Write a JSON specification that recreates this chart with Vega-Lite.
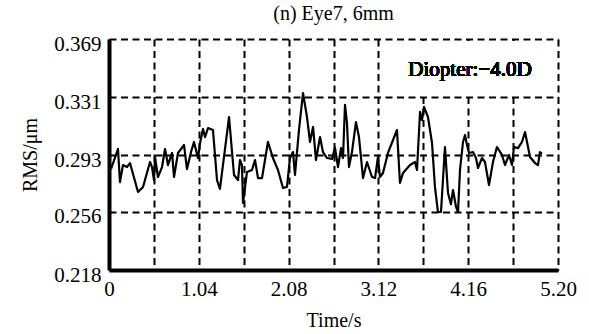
{
  "$schema": "https://vega.github.io/schema/vega-lite/v6.json",
  "width": 449,
  "height": 231,
  "autosize": {"type": "none"},
  "padding": {"left": 109, "top": 39, "right": 31, "bottom": 64},
  "background": "white",
  "config": {
    "view": {"stroke": null},
    "font": "Liberation Serif"
  },
  "title": {
    "text": "(n) Eye7, 6mm",
    "font": "Liberation Serif",
    "fontSize": 20,
    "fontWeight": "normal",
    "color": "black",
    "offset": 9
  },
  "data": {
    "values": [
      {"t": 0.023, "v": 0.2840},
      {"t": 0.104, "v": 0.2971},
      {"t": 0.127, "v": 0.2755},
      {"t": 0.162, "v": 0.2866},
      {"t": 0.208, "v": 0.2853},
      {"t": 0.243, "v": 0.2879},
      {"t": 0.336, "v": 0.2690},
      {"t": 0.394, "v": 0.2723},
      {"t": 0.475, "v": 0.2886},
      {"t": 0.498, "v": 0.2853},
      {"t": 0.521, "v": 0.2768},
      {"t": 0.533, "v": 0.2919},
      {"t": 0.567, "v": 0.2788},
      {"t": 0.614, "v": 0.2853},
      {"t": 0.649, "v": 0.2971},
      {"t": 0.683, "v": 0.2866},
      {"t": 0.730, "v": 0.2945},
      {"t": 0.753, "v": 0.2788},
      {"t": 0.799, "v": 0.2945},
      {"t": 0.869, "v": 0.2997},
      {"t": 0.903, "v": 0.2840},
      {"t": 0.950, "v": 0.2951},
      {"t": 0.984, "v": 0.3017},
      {"t": 1.031, "v": 0.2912},
      {"t": 1.054, "v": 0.3010},
      {"t": 1.089, "v": 0.3102},
      {"t": 1.112, "v": 0.3049},
      {"t": 1.147, "v": 0.3108},
      {"t": 1.204, "v": 0.3095},
      {"t": 1.251, "v": 0.2768},
      {"t": 1.285, "v": 0.2710},
      {"t": 1.390, "v": 0.3180},
      {"t": 1.448, "v": 0.2801},
      {"t": 1.494, "v": 0.2768},
      {"t": 1.517, "v": 0.2899},
      {"t": 1.540, "v": 0.2866},
      {"t": 1.552, "v": 0.2618},
      {"t": 1.598, "v": 0.2821},
      {"t": 1.656, "v": 0.2834},
      {"t": 1.691, "v": 0.2899},
      {"t": 1.726, "v": 0.2781},
      {"t": 1.772, "v": 0.2781},
      {"t": 1.841, "v": 0.3017},
      {"t": 1.899, "v": 0.2912},
      {"t": 1.957, "v": 0.2834},
      {"t": 2.015, "v": 0.2716},
      {"t": 2.061, "v": 0.2723},
      {"t": 2.096, "v": 0.2912},
      {"t": 2.131, "v": 0.2951},
      {"t": 2.154, "v": 0.2801},
      {"t": 2.200, "v": 0.3095},
      {"t": 2.247, "v": 0.3337},
      {"t": 2.293, "v": 0.3180},
      {"t": 2.328, "v": 0.3017},
      {"t": 2.363, "v": 0.3115},
      {"t": 2.397, "v": 0.2899},
      {"t": 2.444, "v": 0.3049},
      {"t": 2.478, "v": 0.2951},
      {"t": 2.525, "v": 0.2912},
      {"t": 2.583, "v": 0.2906},
      {"t": 2.617, "v": 0.2980},
      {"t": 2.652, "v": 0.2853},
      {"t": 2.687, "v": 0.2977},
      {"t": 2.710, "v": 0.2912},
      {"t": 2.733, "v": 0.3259},
      {"t": 2.756, "v": 0.3141},
      {"t": 2.779, "v": 0.2853},
      {"t": 2.814, "v": 0.2951},
      {"t": 2.860, "v": 0.3147},
      {"t": 2.895, "v": 0.3049},
      {"t": 2.942, "v": 0.2781},
      {"t": 2.988, "v": 0.2886},
      {"t": 3.046, "v": 0.2788},
      {"t": 3.081, "v": 0.2781},
      {"t": 3.115, "v": 0.2919},
      {"t": 3.138, "v": 0.2788},
      {"t": 3.173, "v": 0.2814},
      {"t": 3.231, "v": 0.2945},
      {"t": 3.335, "v": 0.3095},
      {"t": 3.370, "v": 0.2749},
      {"t": 3.405, "v": 0.2814},
      {"t": 3.486, "v": 0.2866},
      {"t": 3.544, "v": 0.2886},
      {"t": 3.567, "v": 0.2834},
      {"t": 3.602, "v": 0.3213},
      {"t": 3.625, "v": 0.3160},
      {"t": 3.648, "v": 0.3246},
      {"t": 3.694, "v": 0.3180},
      {"t": 3.741, "v": 0.3010},
      {"t": 3.775, "v": 0.2723},
      {"t": 3.810, "v": 0.2559},
      {"t": 3.845, "v": 0.2559},
      {"t": 3.891, "v": 0.2984},
      {"t": 3.926, "v": 0.2683},
      {"t": 3.960, "v": 0.2610},
      {"t": 3.984, "v": 0.2703},
      {"t": 4.019, "v": 0.2592},
      {"t": 4.042, "v": 0.2559},
      {"t": 4.065, "v": 0.2834},
      {"t": 4.100, "v": 0.3017},
      {"t": 4.123, "v": 0.3062},
      {"t": 4.146, "v": 0.2997},
      {"t": 4.169, "v": 0.2945},
      {"t": 4.215, "v": 0.2951},
      {"t": 4.250, "v": 0.2912},
      {"t": 4.273, "v": 0.2847},
      {"t": 4.320, "v": 0.2912},
      {"t": 4.354, "v": 0.2886},
      {"t": 4.401, "v": 0.2736},
      {"t": 4.447, "v": 0.2886},
      {"t": 4.493, "v": 0.2984},
      {"t": 4.551, "v": 0.2932},
      {"t": 4.586, "v": 0.2866},
      {"t": 4.632, "v": 0.2932},
      {"t": 4.667, "v": 0.2866},
      {"t": 4.690, "v": 0.2984},
      {"t": 4.737, "v": 0.2977},
      {"t": 4.783, "v": 0.3017},
      {"t": 4.818, "v": 0.3082},
      {"t": 4.876, "v": 0.2919},
      {"t": 4.934, "v": 0.2879},
      {"t": 4.968, "v": 0.2866},
      {"t": 4.991, "v": 0.2951},
      {"t": 5.015, "v": 0.2940}
    ]
  },
  "layer": [
    {
      "mark": {"type": "line", "color": "black", "strokeWidth": 2.2, "strokeJoin": "round"},
      "encoding": {
        "x": {
          "field": "t",
          "type": "quantitative",
          "scale": {"domain": [0, 5.2], "nice": false, "zero": false},
          "axis": {
            "orient": "bottom",
            "values": [0, 0.52, 1.04, 1.56, 2.08, 2.6, 3.12, 3.64, 4.16, 4.68, 5.2],
            "labelExpr": "datum.value == 0 ? '0' : ((datum.value == 1.04 || datum.value == 2.08 || datum.value == 3.12 || datum.value == 4.16 || datum.value == 5.2) ? format(datum.value, '.2f') : '')",
            "grid": true,
            "gridColor": "black",
            "gridDash": [7, 4.5],
            "gridWidth": 2,
            "gridOpacity": 1,
            "domainColor": "black",
            "domainWidth": 4,
            "ticks": false,
            "labelFont": "Liberation Serif",
            "labelFontSize": 21,
            "labelColor": "black",
            "labelPadding": 8,
            "labelFlush": false,
            "labelOverlap": false,
            "title": "Time/s",
            "titleFont": "Liberation Serif",
            "titleFontSize": 20,
            "titleFontWeight": "normal",
            "titleColor": "black",
            "titleX": 224.5,
            "titleY": 50,
            "titleAlign": "center",
            "titleBaseline": "middle"
          }
        },
        "y": {
          "field": "v",
          "type": "quantitative",
          "scale": {"domain": [0.218, 0.369], "nice": false, "zero": false},
          "axis": {
            "orient": "left",
            "values": [0.218, 0.2369, 0.256, 0.2745, 0.293, 0.312, 0.331, 0.350, 0.369],
            "labelExpr": "(datum.value == 0.218 || datum.value == 0.256 || datum.value == 0.293 || datum.value == 0.331 || datum.value == 0.369) ? format(datum.value, '.3f') : ''",
            "grid": true,
            "gridColor": "black",
            "gridDash": [7, 4.5],
            "gridWidth": 2,
            "gridOpacity": 1,
            "domainColor": "black",
            "domainWidth": 4,
            "ticks": false,
            "labelFont": "Liberation Serif",
            "labelFontSize": 21,
            "labelColor": "black",
            "labelPadding": 8,
            "labelOffset": 5,
            "labelFlush": false,
            "labelOverlap": false,
            "title": "RMS/μm",
            "titleFont": "Liberation Serif",
            "titleFontSize": 20,
            "titleFontWeight": "normal",
            "titleColor": "black",
            "titleAngle": -90,
            "titleX": -79,
            "titleY": 115.5,
            "titleAlign": "center",
            "titleBaseline": "middle"
          }
        }
      }
    },
    {
      "mark": {"type": "rect", "fill": "white", "strokeWidth": 0, "opacity": 1},
      "encoding": {
        "x": {"datum": 3.25, "type": "quantitative"},
        "x2": {"datum": 5.13},
        "y": {"datum": 0.3325, "type": "quantitative"},
        "y2": {"datum": 0.3675}
      }
    },
    {
      "mark": {"type": "text", "font": "Liberation Serif", "fontSize": 21, "fontWeight": "normal", "fill": "black", "strokeWidth": 0, "align": "center", "baseline": "middle"},
      "encoding": {
        "x": {"datum": 4.18, "type": "quantitative"},
        "y": {"datum": 0.3487, "type": "quantitative"},
        "text": {"value": "Diopter:−4.0D"}
      }
    }
  ]
}
